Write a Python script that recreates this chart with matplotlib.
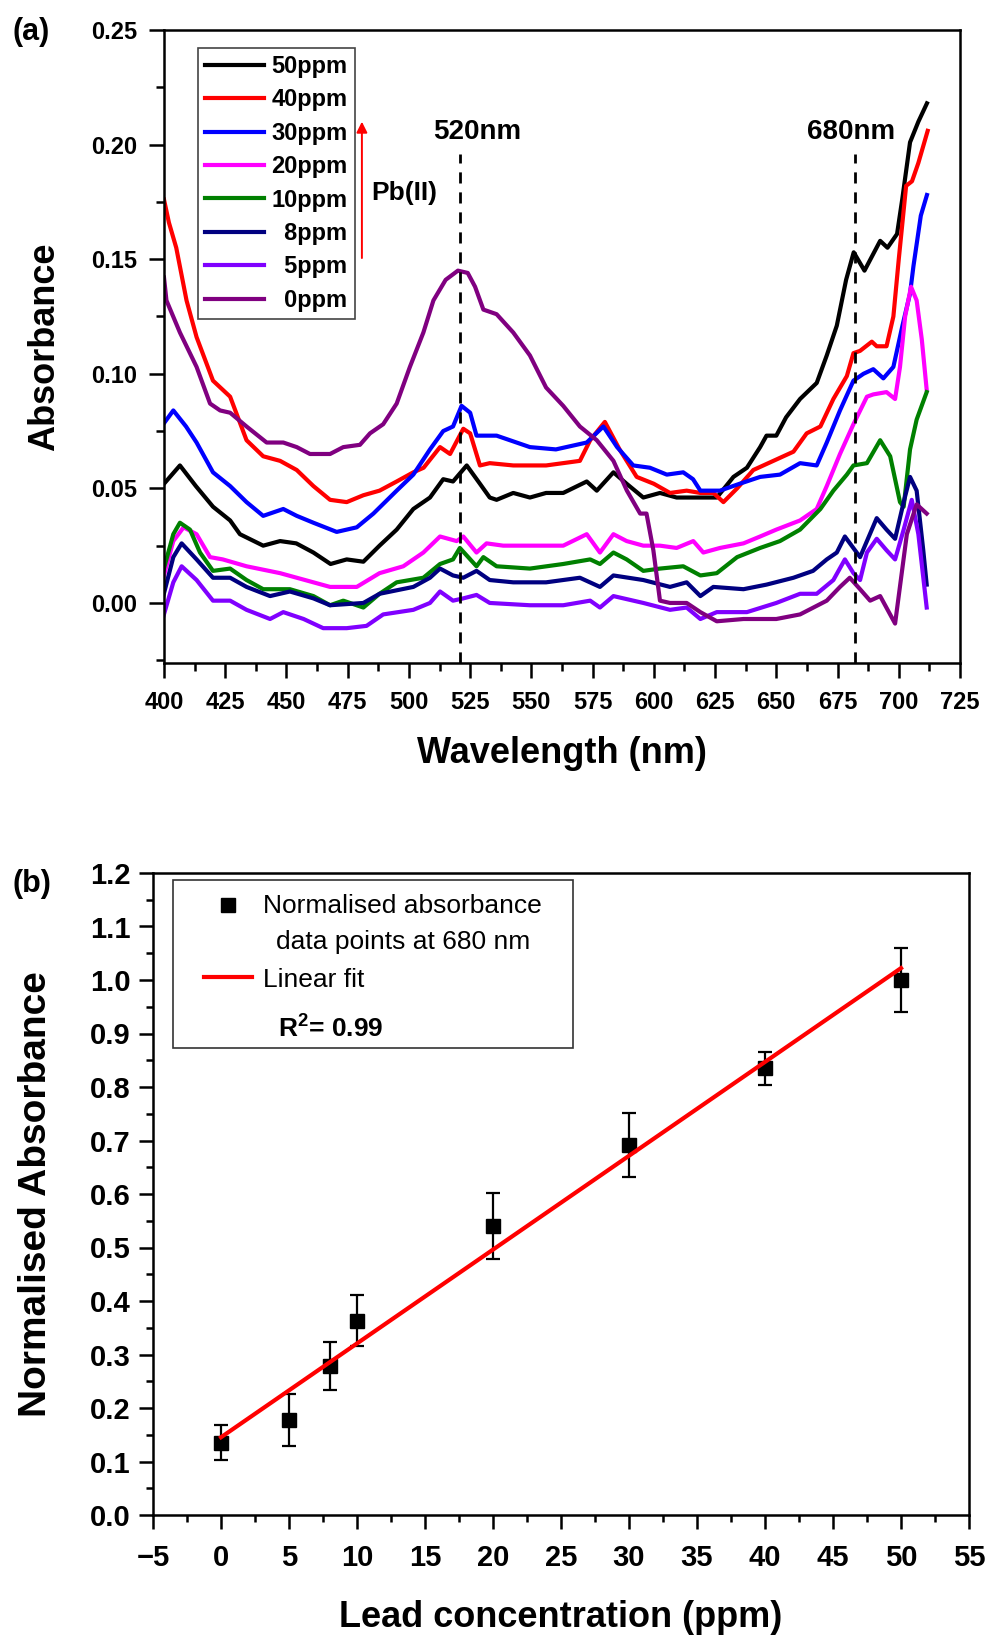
import numpy as np
import matplotlib
matplotlib.use("Agg")
import matplotlib.pyplot as plt
from matplotlib.lines import Line2D
from matplotlib.patches import Rectangle
from matplotlib.legend_handler import HandlerLine2D
from matplotlib.ticker import MultipleLocator, FormatStrFormatter

plt.rcParams['font.family'] = ['Liberation Sans', 'DejaVu Sans']
plt.rcParams['mathtext.fontset'] = 'custom'
plt.rcParams['mathtext.rm'] = 'Liberation Sans'
plt.rcParams['mathtext.bf'] = 'Liberation Sans:bold'

# ---- panel (a): absorbance spectra ----
wl_50 = [400, 406.5, 413, 420, 427, 431, 440.5, 447.4, 454, 461, 468, 474.6, 481.4, 488, 495, 501.8,
         508.6, 514, 518, 523.6, 529, 533, 535.8, 542.6, 549.4, 556, 563, 572.6, 576.7, 583.5, 588.9,
         595.7, 602.5, 609.3, 619, 625.7, 632.5, 638, 643.4, 646, 650, 654, 659.7, 666.5, 670.6,
         674.7, 678.5, 681.6, 686, 692.4, 695.4, 699.3, 701.4, 704.6, 708, 711.5]
abs_50 = [0.052, 0.060, 0.051, 0.042, 0.036, 0.030, 0.025, 0.027, 0.026, 0.022, 0.017, 0.019, 0.018,
          0.025, 0.032, 0.041, 0.046, 0.054, 0.053, 0.060, 0.052, 0.046, 0.045, 0.048, 0.046, 0.048,
          0.048, 0.053, 0.049, 0.057, 0.052, 0.046, 0.048, 0.046, 0.046, 0.046, 0.055, 0.059, 0.068,
          0.073, 0.073, 0.081, 0.089, 0.096, 0.108, 0.121, 0.141, 0.153, 0.145, 0.158, 0.155, 0.161,
          0.176, 0.201, 0.210, 0.218]

wl_40 = [400, 402, 405, 409.2, 413.3, 420, 427, 433.7, 440.5, 447.4, 454.2, 461, 467.8, 474.6, 481.4,
         488, 495, 501.8, 506, 512.7, 516.8, 522.2, 525, 529, 533, 542.6, 556, 569.8, 574, 580, 586,
         593, 600, 606.6, 613.4, 619, 624.3, 628.4, 634, 640.6, 648.8, 657, 662.4, 668, 673.3, 678.8,
         681.5, 684.2, 689, 691, 695, 697.8, 700, 703, 705.4, 708, 711.8]
abs_40 = [0.176, 0.166, 0.155, 0.132, 0.116, 0.097, 0.090, 0.071, 0.064, 0.062, 0.058, 0.051, 0.045,
          0.044, 0.047, 0.049, 0.053, 0.057, 0.059, 0.068, 0.065, 0.076, 0.074, 0.060, 0.061, 0.060,
          0.060, 0.062, 0.071, 0.079, 0.067, 0.055, 0.052, 0.048, 0.049, 0.048, 0.048, 0.044, 0.050,
          0.058, 0.062, 0.066, 0.074, 0.077, 0.089, 0.099, 0.109, 0.110, 0.114, 0.112, 0.112, 0.125,
          0.150, 0.182, 0.184, 0.192, 0.206]

wl_30 = [399.7, 403.8, 409, 413.3, 420, 427, 433.7, 440.5, 448.7, 454.2, 461, 470.5, 478.7, 485.5, 495,
         501.8, 508.6, 514, 518, 521.5, 525, 527.6, 535.8, 549.4, 560, 572.6, 579.4, 585, 591.6, 598.4,
         605.3, 612, 616, 619, 627, 635, 643.4, 651.5, 659.7, 666.5, 670.6, 676, 681.5, 685.6, 689.6,
         693.7, 697.8, 701.5, 704.6, 706, 709, 711.5]
abs_30 = [0.078, 0.084, 0.077, 0.070, 0.057, 0.051, 0.044, 0.038, 0.041, 0.038, 0.035, 0.031, 0.033,
          0.039, 0.049, 0.056, 0.067, 0.075, 0.077, 0.086, 0.083, 0.073, 0.073, 0.068, 0.067, 0.070,
          0.077, 0.068, 0.060, 0.059, 0.056, 0.057, 0.054, 0.049, 0.049, 0.052, 0.055, 0.056, 0.061,
          0.060, 0.070, 0.084, 0.097, 0.100, 0.102, 0.098, 0.103, 0.121, 0.135, 0.147, 0.169, 0.178]

wl_20 = [399.7, 403.8, 408, 413.3, 418.8, 424, 433.7, 447.4, 454.2, 461, 467.8, 478.7, 488, 497.7,
         505.9, 512.7, 519.5, 522.2, 527.6, 531.7, 538.5, 549.4, 563, 572.6, 578, 583.5, 588.9, 595.7,
         602.5, 609.3, 616.1, 620.2, 627, 636.6, 643.4, 650, 659.7, 666.5, 670.6, 676, 681.5, 687,
         689.6, 695, 698.5, 700.5, 702.6, 705, 707.3, 709.4, 711.4]
abs_20 = [0.011, 0.027, 0.033, 0.030, 0.020, 0.019, 0.016, 0.013, 0.011, 0.009, 0.007, 0.007, 0.013,
          0.016, 0.022, 0.029, 0.027, 0.029, 0.022, 0.026, 0.025, 0.025, 0.025, 0.030, 0.022, 0.030,
          0.027, 0.025, 0.025, 0.024, 0.027, 0.022, 0.024, 0.026, 0.029, 0.032, 0.036, 0.041, 0.051,
          0.065, 0.078, 0.090, 0.091, 0.092, 0.089, 0.103, 0.125, 0.138, 0.132, 0.115, 0.093]

wl_10 = [399.7, 403.8, 406.5, 410.6, 414.7, 420, 427, 433.7, 440.5, 451.4, 461, 467.8, 473.2, 481.4,
         488, 495, 505.9, 512.7, 518, 520.8, 527.6, 530.4, 535.8, 549.4, 563, 574, 578, 583.5, 588.9,
         595.7, 602.5, 612, 619, 625.7, 634, 643.4, 651.5, 659.7, 668, 673.3, 678.8, 681.5, 687,
         692.4, 696.5, 700.5, 702, 704.6, 707.3, 711.4]
abs_10 = [0.014, 0.030, 0.035, 0.032, 0.022, 0.014, 0.015, 0.010, 0.006, 0.006, 0.003, -0.001, 0.001,
          -0.002, 0.004, 0.009, 0.011, 0.017, 0.019, 0.024, 0.016, 0.020, 0.016, 0.015, 0.017, 0.019,
          0.017, 0.022, 0.019, 0.014, 0.015, 0.016, 0.012, 0.013, 0.020, 0.024, 0.027, 0.032, 0.041,
          0.049, 0.056, 0.060, 0.061, 0.071, 0.064, 0.044, 0.042, 0.067, 0.080, 0.092]

wl_8 = [399.7, 403.8, 407.2, 413.3, 420, 427, 433.7, 443.3, 451.4, 461, 467.8, 481.4, 488, 501.8, 508.6,
        512.7, 518, 522.2, 527.6, 533, 542.6, 556, 569.8, 578, 583.5, 595.7, 606.6, 613.4, 619, 624.3,
        636.6, 646, 657, 665, 670.6, 674.7, 678, 684.2, 687, 691, 695, 698.5, 702, 704.6, 707.3, 710,
        711.4]
abs_8 = [0.003, 0.020, 0.026, 0.019, 0.011, 0.011, 0.007, 0.003, 0.005, 0.002, -0.001, 0.000, 0.004,
         0.007, 0.011, 0.015, 0.012, 0.011, 0.014, 0.010, 0.009, 0.009, 0.011, 0.007, 0.012, 0.010,
         0.007, 0.009, 0.003, 0.007, 0.006, 0.008, 0.011, 0.014, 0.019, 0.022, 0.029, 0.020, 0.027,
         0.037, 0.032, 0.028, 0.044, 0.055, 0.049, 0.023, 0.008]

wl_5 = [399.7, 403.8, 407.2, 413.3, 420, 427, 433.7, 443.3, 448.7, 457, 465, 474.6, 482.7, 489.5, 501.8,
        508.6, 512.7, 518, 522.2, 527.6, 533, 549.4, 563, 574, 578, 583.5, 595.7, 606.6, 613.4, 619,
        625.7, 638, 650, 659.7, 666.5, 673.3, 678, 681.5, 684.2, 687, 691, 695, 698.5, 702, 705.3,
        708, 711.4]
abs_5 = [-0.006, 0.009, 0.016, 0.010, 0.001, 0.001, -0.003, -0.007, -0.004, -0.007, -0.011, -0.011,
         -0.010, -0.005, -0.003, 0.000, 0.005, 0.001, 0.002, 0.0035, 0.000, -0.001, -0.001, 0.001,
         -0.002, 0.003, 0.000, -0.003, -0.002, -0.007, -0.004, -0.004, 0.000, 0.004, 0.004, 0.010,
         0.019, 0.013, 0.010, 0.022, 0.028, 0.023, 0.019, 0.032, 0.045, 0.030, -0.002]

wl_0 = [400, 401, 406.5, 413.3, 418.8, 422.9, 427, 433.7, 441.9, 448.7, 454.2, 459.6, 467.8, 473.2, 480,
        484.1, 489.5, 495, 500.4, 505.9, 510, 515, 520, 524, 527, 530.4, 535.8, 542.6, 549.4, 556,
        563, 569.8, 576.7, 583.5, 589, 594.4, 597, 599.8, 602.5, 606.6, 613.4, 619, 625.7, 636.6, 650,
        659.7, 670.6, 676, 680, 684.2, 688.3, 692.4, 698.5, 703.3, 707.3, 711.4]
abs_0 = [0.142, 0.132, 0.118, 0.103, 0.087, 0.084, 0.083, 0.077, 0.070, 0.070, 0.068, 0.065, 0.065,
         0.068, 0.069, 0.074, 0.078, 0.087, 0.103, 0.118, 0.132, 0.141, 0.145, 0.144, 0.138, 0.128,
         0.126, 0.118, 0.108, 0.094, 0.086, 0.077, 0.071, 0.062, 0.049, 0.039, 0.039, 0.023, 0.001,
         0.000, 0.000, -0.004, -0.008, -0.007, -0.007, -0.005, 0.001, 0.007, 0.011, 0.006, 0.001,
         0.003, -0.009, 0.030, 0.043, 0.039]

labels_a = ['50ppm', '40ppm', '30ppm', '20ppm', '10ppm', '\u20078ppm', '\u20075ppm', '\u20070ppm']
colors_a = ['black', '#ff0000', '#0000ff', '#ff00ff', '#008000', '#000080', '#8000ff', '#800080']
wl_all = [wl_50, wl_40, wl_30, wl_20, wl_10, wl_8, wl_5, wl_0]
abs_all = [abs_50, abs_40, abs_30, abs_20, abs_10, abs_8, abs_5, abs_0]

line_wl = [521, 682]
line_labels = ['520nm', '680nm']

# ---- panel (b): calibration ----
conc = np.array([0, 5, 8, 10, 20, 30, 40, 50])
norm_abs = np.array([0.135, 0.178, 0.278, 0.363, 0.540, 0.692, 0.835, 1.000])
norm_err = np.array([0.033, 0.049, 0.045, 0.048, 0.062, 0.060, 0.031, 0.060])

W, H = 988, 1635
fig = plt.figure(figsize=(W / 100, H / 100), dpi=100)


def axes_px(l, t, r, b):
    return fig.add_axes([l / W, 1 - b / H, (r - l) / W, (b - t) / H])


def style_axes(ax, tsize):
    for s in ax.spines.values():
        s.set_linewidth(1.8)
    ax.tick_params(which='both', direction='out', width=1.8, labelsize=tsize,
                   top=False, right=False)
    for lab in ax.get_xticklabels() + ax.get_yticklabels():
        lab.set_fontweight('bold')


# (a)
ax1 = axes_px(164, 30, 960, 663)
for wl, a, c, lab in zip(wl_all, abs_all, colors_a, labels_a):
    ax1.plot(wl, a, color=c, lw=3, label=lab)
ylo = -0.0262
ax1.set_xlim(400, 725)
ax1.set_ylim(ylo, 0.25)
ax1.xaxis.set_major_locator(MultipleLocator(25))
ax1.xaxis.set_minor_locator(MultipleLocator(12.5))
ax1.yaxis.set_major_locator(MultipleLocator(0.05))
ax1.yaxis.set_minor_locator(MultipleLocator(0.025))
ax1.yaxis.set_major_formatter(FormatStrFormatter('%.2f'))
style_axes(ax1, 17)
ax1.tick_params(which='major', length=11)
ax1.tick_params(which='minor', length=6)
ax1.tick_params(axis='x', pad=9)
ax1.tick_params(axis='y', pad=8)

for xv in line_wl:
    ax1.axvline(xv, ymin=0, ymax=(0.196 - ylo) / (0.25 - ylo), color='black', lw=2,
                ls=(0, (4, 3.2)))
ax1.text(528, 0.2055, line_labels[0], ha='center', va='center', fontsize=20, fontweight='bold')
ax1.text(680.5, 0.2055, line_labels[1], ha='center', va='center', fontsize=20, fontweight='bold')
ax1.annotate('', xy=(480.8, 0.210), xytext=(480.8, 0.1505),
             arrowprops=dict(arrowstyle='-|>', color='red', lw=1.4, mutation_scale=16,
                             shrinkA=0, shrinkB=0))
ax1.text(498, 0.179, 'Pb(II)', ha='center', va='center', fontsize=19, fontweight='bold')

leg1 = ax1.legend(loc='upper left', bbox_to_anchor=((198 - 164) / 796, (663 - 48) / 633),
                  borderaxespad=0, prop=dict(weight='bold', size=17),
                  handlelength=2.5, handletextpad=0.3, labelspacing=0.44, borderpad=0.3,
                  fancybox=False, edgecolor='#444444', framealpha=1)
leg1.get_frame().set_linewidth(1.2)

ax1.set_xlabel('Wavelength (nm)', fontsize=26, fontweight='bold')
ax1.set_ylabel('Absorbance', fontsize=26, fontweight='bold')
ax1.xaxis.set_label_coords(0.5, -0.115)
ax1.yaxis.set_label_coords(-0.128, 0.5)
fig.text(12 / W, 1 - 32 / H, '(a)', ha='left', va='center', fontsize=22, fontweight='bold')

# (b)
ax2 = axes_px(153, 873, 969, 1515)
ax2.errorbar(conc, norm_abs, yerr=norm_err, fmt='s', color='black', ms=10,
             elinewidth=1.6, capsize=4.7, capthick=1.6, zorder=3)
slope, icpt = np.polyfit(conc, norm_abs, 1)
x_fit = np.array([conc.min(), conc.max()])
ax2.plot(x_fit, slope * x_fit + icpt, color='#ff0000', lw=3, zorder=4)
ax2.set_xlim(-5, 55)
ax2.set_ylim(0, 1.2)
ax2.xaxis.set_major_locator(MultipleLocator(5))
ax2.xaxis.set_minor_locator(MultipleLocator(2.5))
ax2.yaxis.set_major_locator(MultipleLocator(0.1))
ax2.yaxis.set_minor_locator(MultipleLocator(0.05))
ax2.yaxis.set_major_formatter(FormatStrFormatter('%.1f'))
style_axes(ax2, 21)
ax2.tick_params(which='major', length=10)
ax2.tick_params(which='minor', length=5)
ax2.tick_params(axis='x', pad=11)
ax2.tick_params(axis='y', pad=6)

ax2.add_patch(Rectangle(((173 - 153) / 816, (1515 - 1048) / 642), 400 / 816, 168 / 642,
                        transform=ax2.transAxes, fill=False, ec='#333333', lw=1.2, zorder=5))


def raise_marker(legend_handle, orig_handle):
    # put the square next to the first line of the two-line label
    legend_handle.update_from(orig_handle)
    legend_handle.set_ydata(np.asarray(legend_handle.get_ydata()) + 14)


h_pts = Line2D([], [], ls='none', marker='s', color='black', ms=10)
h_fit = Line2D([], [], color='#ff0000', lw=3)
leg2 = ax2.legend([h_pts, h_fit],
                  ['Normalised absorbance\ndata points at 680 nm', 'Linear fit'],
                  handler_map={h_pts: HandlerLine2D(update_func=raise_marker)},
                  loc='upper left', bbox_to_anchor=((204 - 153) / 816, (1515 - 894) / 642),
                  borderaxespad=0, borderpad=0, frameon=False, fontsize=19,
                  handlelength=1.8, handletextpad=0.45, labelspacing=0.5)
leg2.get_texts()[0].set_multialignment('center')
leg2.get_texts()[0].set_linespacing(1.65)
ax2.text((278 - 153) / 816, (1515 - 1028) / 642, r'R$^{\mathbf{2}}$= 0.99', transform=ax2.transAxes,
         ha='left', va='center', fontsize=19, fontweight='bold')

ax2.set_xlabel('Lead concentration (ppm)', fontsize=26, fontweight='bold')
ax2.set_ylabel('Normalised Absorbance', fontsize=28, fontweight='bold')
ax2.xaxis.set_label_coords(0.5, -0.132)
ax2.yaxis.set_label_coords(-0.121, 0.5)
fig.text(12 / W, 1 - 884 / H, '(b)', ha='left', va='center', fontsize=22, fontweight='bold')

fig.savefig('out.png', dpi=100)
